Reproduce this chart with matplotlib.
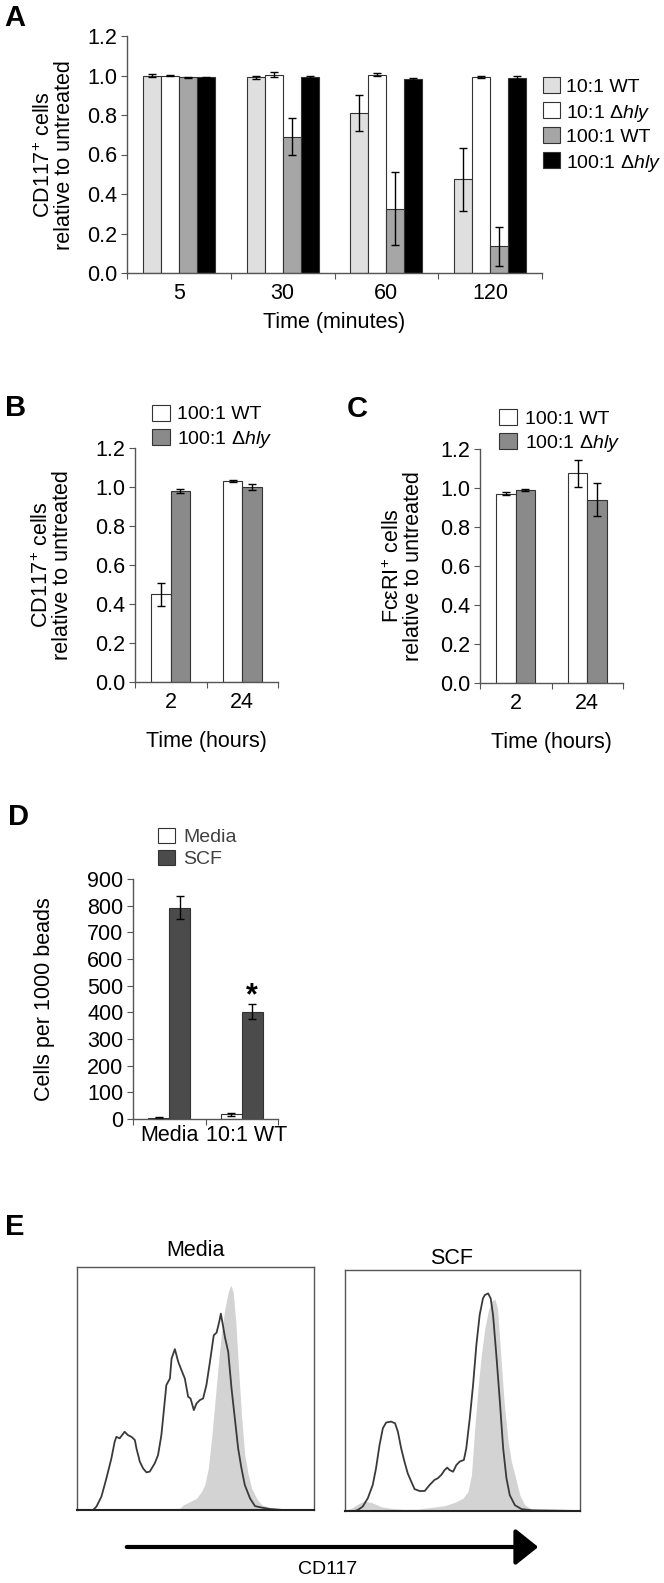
import numpy as np
import matplotlib
matplotlib.use('Agg')
import matplotlib.pyplot as plt
from matplotlib.patches import FancyArrowPatch, Rectangle
from matplotlib.transforms import ScaledTranslation

plt.rcParams['font.family'] = ['Liberation Sans', 'DejaVu Sans']
plt.rcParams['mathtext.fontset'] = 'custom'
plt.rcParams['mathtext.rm'] = 'Liberation Sans'
plt.rcParams['mathtext.it'] = 'Liberation Sans:italic'
plt.rcParams['axes.linewidth'] = 1.0

# ---- data ----
# panel A
a_times = ['5', '30', '60', '120']
a_series = ['10:1 WT', '10:1 $\\Delta\\mathit{hly}$', '100:1 WT', '100:1 $\\Delta\\mathit{hly}$']
a_10wt = [1.00, 0.99, 0.81, 0.475]
a_10wt_err = [0.006, 0.008, 0.09, 0.16]
a_10hly = [1.00, 1.005, 1.005, 0.99]
a_10hly_err = [0.004, 0.012, 0.008, 0.005]
a_100wt = [0.99, 0.69, 0.325, 0.135]
a_100wt_err = [0.003, 0.095, 0.185, 0.1]
a_100hly = [0.99, 0.99, 0.98, 0.985]
a_100hly_err = [0.004, 0.01, 0.008, 0.015]

# panel B
b_times = ['2', '24']
b_series = ['100:1 WT', '100:1 $\\Delta\\mathit{hly}$']
b_wt = [0.45, 1.03]
b_wt_err = [0.06, 0.005]
b_hly = [0.98, 1.0]
b_hly_err = [0.01, 0.015]

# panel C
c_wt = [0.97, 1.075]
c_wt_err = [0.008, 0.07]
c_hly = [0.99, 0.94]
c_hly_err = [0.004, 0.085]

# panel D
d_groups = ['Media', '10:1 WT']
d_series = ['Media', 'SCF']
d_media = [5, 17]
d_media_err = [2, 5]
d_scf = [793, 402]
d_scf_err = [42, 28]

# panel E histograms (x = channel 0-100, y = % of plot height)
e_media_open_x = [0, 6.8, 8.2, 10.3, 12.4, 14.5, 15.9, 16.6, 18.0, 20.1, 21.5, 23.0, 24.4, 25.1,
                  26.5, 27.9, 29.3, 30.7, 32.8, 34.2, 35.6, 37.0, 37.7, 39.2, 39.9, 41.3, 42.7,
                  44.1, 45.5, 46.9, 47.9, 49.3, 50.4, 51.8, 53.2, 54.6, 56.1, 57.7, 58.9, 60.0,
                  60.7, 61.7, 62.4, 63.8, 65.2, 66.6, 68.0, 69.4, 70.8, 73.0, 75.1, 77.9, 81.4,
                  87.0, 100]
e_media_open_y = [0, 0, 1.4, 5.5, 13.0, 21.2, 28.1, 30.1, 29.5, 32.2, 30.8, 30.1, 28.8, 25.3,
                  19.9, 17.1, 15.5, 15.8, 19.2, 22.6, 30.8, 44.5, 51.4, 54.1, 62.3, 66.2, 61.0,
                  57.5, 54.1, 46.6, 45.9, 41.1, 43.8, 45.2, 45.9, 51.4, 61.0, 71.9, 73.0, 77.4,
                  80.8, 75.3, 71.2, 65.1, 50.0, 37.7, 25.3, 17.1, 10.3, 4.8, 1.6, 1.0, 0.4,
                  0, 0]
e_media_fill_x = [0, 19.4, 31.4, 43.4, 44.8, 47.6, 50.4, 52.5, 53.9, 55.4, 56.8, 58.2, 59.6, 61.0,
                  62.4, 63.8, 64.9, 65.9, 67.0, 68.0, 69.4, 70.8, 72.3, 73.7, 75.8, 77.9, 81.4,
                  87.0, 100]
e_media_fill_y = [0.7, 0.5, 0.2, 0.7, 2.1, 3.4, 4.8, 7.5, 10.3, 17.1, 29.5, 44.5, 59.6, 73.3,
                  82.9, 89.7, 92.5, 89.7, 77.4, 61.0, 39.0, 22.6, 14.4, 8.9, 4.8, 2.1, 1.0,
                  0.3, 0]
e_scf_open_x = [0, 4.0, 5.4, 7.5, 9.7, 11.8, 13.2, 14.7, 16.1, 17.5, 19.6, 21.3, 22.5, 23.9,
                25.3, 26.7, 28.2, 29.6, 31.7, 33.9, 36.0, 38.1, 39.5, 41.0, 42.4, 43.5, 44.5,
                46.0, 47.4, 48.8, 50.6, 51.6, 53.1, 54.5, 55.9, 57.3, 58.7, 59.5, 60.9, 62.0,
                63.0, 64.4, 65.9, 67.3, 68.7, 70.1, 72.3, 75.1, 79.4, 100]
e_scf_open_y = [0, 0, 0.4, 1.8, 5.3, 10.8, 17.7, 27.4, 34.3, 36.7, 37.1, 36.4, 32.9, 26.0,
                20.5, 15.6, 12.2, 9.1, 8.3, 8.3, 10.8, 12.9, 13.6, 15.0, 17.0, 18.0, 17.0,
                16.3, 19.1, 20.5, 21.2, 26.0, 38.5, 52.3, 68.9, 81.3, 88.2, 89.6, 90.3, 88.2,
                81.3, 64.7, 45.4, 26.0, 13.6, 6.6, 2.4, 0.8, 0.3, 0]
e_scf_fill_x = [0, 2.6, 5.4, 8.2, 11.1, 15.4, 19.6, 25.3, 31.0, 36.7, 42.4, 46.7, 50.2, 52.3,
                53.8, 55.2, 56.6, 58.0, 59.5, 60.9, 62.3, 63.7, 64.9, 66.3, 67.7, 69.4, 70.8,
                72.3, 74.4, 76.5, 79.4, 85.1, 100]
e_scf_fill_y = [0.4, 1.1, 2.8, 4.1, 3.6, 1.8, 1.1, 0.7, 0.8, 1.5, 2.2, 3.6, 5.3, 8.0,
                14.9, 34.3, 50.9, 64.7, 75.8, 82.7, 86.9, 88.0, 84.2, 64.7, 45.4, 28.8, 20.5,
                14.9, 6.6, 2.5, 0.8, 0.3, 0]

W, H = 664, 1583
fig = plt.figure(figsize=(W / 100, H / 100), dpi=100)
FS = 15.5
FS_LEG = 14
EDGE = '#333333'
AX_COL = '#555555'


def px_axes(l, t, r, b):
    return fig.add_axes([l / W, 1 - b / H, (r - l) / W, (b - t) / H])


def style_bar_axes(ax, n, labels):
    for s in ['top', 'right']:
        ax.spines[s].set_visible(False)
    ax.spines['left'].set_color(AX_COL)
    ax.spines['bottom'].set_color(AX_COL)
    ax.set_xlim(-0.5, n - 0.5)
    ax.set_xticks(np.arange(n + 1) - 0.5)
    ax.set_xticklabels([])
    ax.set_xticks(np.arange(n), minor=True)
    ax.set_xticklabels(labels, minor=True, fontsize=FS)
    ax.tick_params(axis='x', which='major', length=4, direction='out', color=AX_COL)
    ax.tick_params(axis='x', which='minor', length=0, pad=7)
    ax.tick_params(axis='y', length=4, direction='out', color=AX_COL, labelsize=FS, pad=3)


def frac_ticks(ax):
    ax.set_ylim(0, 1.2)
    t = np.arange(0, 1.21, 0.2)
    ax.set_yticks(t)
    ax.set_yticklabels(['%.1f' % v for v in t])


def letter(x, y, s):
    fig.text(x / W, 1 - y / H, s, fontsize=21, fontweight='bold', ha='center', va='center')


def legend_px(x0, ys, labels, colors, tx, bw=17, bh=16, tcol='black'):
    for y, lab, c in zip(ys, labels, colors):
        fig.add_artist(Rectangle((x0 / W, 1 - (y + bh / 2) / H), bw / W, bh / H,
                                 transform=fig.transFigure, facecolor=c, edgecolor=EDGE, lw=0.8))
        fig.text(tx / W, 1 - y / H, lab, fontsize=FS_LEG, ha='left', va='center_baseline', color=tcol)


def ylabel_px(x, y, s):
    fig.text(x / W, 1 - y / H, s, fontsize=FS, rotation=90, ha='center', va='center',
             linespacing=0.95, multialignment='center')


ekw = dict(ecolor='black', elinewidth=1, capsize=3, capthick=1)

# ---- panel A ----
ax = px_axes(127, 36, 542, 273)
x = np.arange(4)
w = 0.174
a_cols = ['#dfdfdf', 'white', '#a6a6a6', 'black']
vals = [a_10wt, a_10hly, a_100wt, a_100hly]
errs = [a_10wt_err, a_10hly_err, a_100wt_err, a_100hly_err]
for i in range(4):
    ax.bar(x + (i - 1.5) * w, vals[i], w, yerr=errs[i], color=a_cols[i], edgecolor=EDGE,
           linewidth=0.8, error_kw=ekw)
frac_ticks(ax)
style_bar_axes(ax, 4, a_times)
ax.set_xlabel('Time (minutes)', fontsize=FS, labelpad=6)
ylabel_px(54, 155, 'CD117$^{+}$ cells\nrelative to untreated')
legend_px(543, [85, 110, 135, 160], a_series, a_cols, 566)
letter(15, 18, 'A')

# ---- panel B ----
ax = px_axes(135, 448, 278, 682)
x = np.arange(2)
w = 0.27
b_cols = ['white', '#8a8a8a']
ax.bar(x - w / 2, b_wt, w, yerr=b_wt_err, color=b_cols[0], edgecolor=EDGE, linewidth=0.8, error_kw=ekw)
ax.bar(x + w / 2, b_hly, w, yerr=b_hly_err, color=b_cols[1], edgecolor=EDGE, linewidth=0.8, error_kw=ekw)
frac_ticks(ax)
style_bar_axes(ax, 2, b_times)
ax.set_xlabel('Time (hours)', fontsize=FS, labelpad=13)
ylabel_px(52, 565, 'CD117$^{+}$ cells\nrelative to untreated')
legend_px(152, [413, 437], b_series, b_cols, 177, bw=18)
letter(16, 408, 'B')

# ---- panel C ----
ax = px_axes(480, 449, 623, 683)
ax.bar(x - w / 2, c_wt, w, yerr=c_wt_err, color=b_cols[0], edgecolor=EDGE, linewidth=0.8, error_kw=ekw)
ax.bar(x + w / 2, c_hly, w, yerr=c_hly_err, color=b_cols[1], edgecolor=EDGE, linewidth=0.8, error_kw=ekw)
frac_ticks(ax)
style_bar_axes(ax, 2, b_times)
ax.set_xlabel('Time (hours)', fontsize=FS, labelpad=13)
ylabel_px(403, 566, 'Fc\u03b5RI$^{+}$ cells\nrelative to untreated')
legend_px(499, [417, 441], b_series, b_cols, 525, bw=18)
letter(357, 409, 'C')

# ---- panel D ----
ax = px_axes(133, 879, 278, 1119)
w = 0.29
d_cols = ['white', '#4b4b4b']
ax.bar(x - w / 2, d_media, w, yerr=d_media_err, color=d_cols[0], edgecolor=EDGE, linewidth=0.8,
       error_kw=ekw)
ax.bar(x + w / 2, d_scf, w, yerr=d_scf_err, color=d_cols[1], edgecolor=EDGE, linewidth=0.8,
       error_kw=ekw)
ax.set_ylim(0, 900)
ax.set_yticks(np.arange(0, 901, 100))
style_bar_axes(ax, 2, d_groups)
ax.tick_params(axis='x', which='minor', pad=4)
# Excel pushes the second label a little to the right
lab2 = ax.get_xticklabels(minor=True)[1]
lab2.set_transform(lab2.get_transform() + ScaledTranslation(0.05, 0, fig.dpi_scale_trans))
ylabel_px(45, 999, 'Cells per 1000 beads')
ax.text(1 + w / 2, d_scf[1] + d_scf_err[1] - 25, '*', ha='center', va='bottom', fontsize=22,
        fontweight='bold')
legend_px(158, [835, 857], d_series, d_cols, 183, bw=17, bh=15, tcol='#404040')
letter(18, 817, 'D')

# ---- panel E ----
letter(15, 1227, 'E')
for (l, t, r, b, title, tx, ty, fx, fy, ox, oy) in [
        (77, 1267, 314, 1510, 'Media', 195, 1250,
         e_media_fill_x, e_media_fill_y, e_media_open_x, e_media_open_y),
        (345, 1270, 580, 1511, 'SCF', 452, 1259,
         e_scf_fill_x, e_scf_fill_y, e_scf_open_x, e_scf_open_y)]:
    ax = px_axes(l, t, r, b)
    ax.fill_between(fx, 0, fy, color='#d3d3d3', linewidth=0)
    ax.plot(ox, oy, color='#3a3a3a', lw=1.3)
    ax.set_xlim(0, 100)
    ax.set_ylim(0, 100)
    ax.set_xticks([])
    ax.set_yticks([])
    for s in ax.spines.values():
        s.set_color(AX_COL)
    ax.spines['bottom'].set_color('#222222')
    ax.spines['bottom'].set_linewidth(1.5)
    fig.text(tx / W, 1 - ty / H, title, fontsize=FS, ha='center', va='center')

arrow = FancyArrowPatch((124 / W, 1 - 1547 / H), (541 / W, 1 - 1547 / H), transform=fig.transFigure,
                        arrowstyle='-|>,head_length=0.5,head_width=0.4', mutation_scale=28,
                        lw=3, color='black')
fig.add_artist(arrow)
fig.text(328 / W, 1 - 1570 / H, 'CD117', fontsize=14, ha='center', va='center')

fig.savefig('out.png', dpi=100)
